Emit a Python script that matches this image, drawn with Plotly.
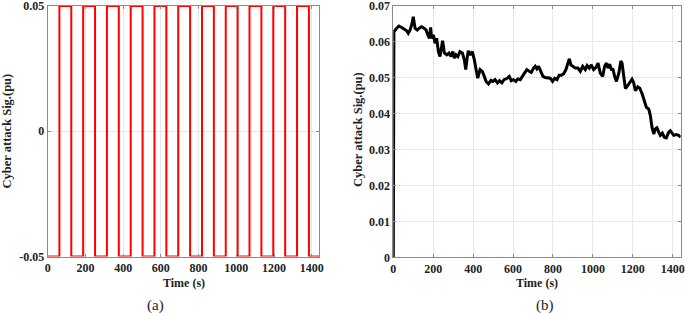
import plotly.graph_objects as go

# ---- (a) square-wave cyber attack signal ----
rise_times = [62, 188, 314, 440, 566, 692, 818, 944, 1070, 1196, 1322]
fall_times = [125, 251, 377, 503, 629, 755, 881, 1007, 1133, 1259, 1385]
low_level = -0.05
high_level = 0.05
t_end = 1440

# ---- (b) cyber attack signal ----
t_b = [0, 3, 17, 28, 42, 55, 67, 75, 84, 92, 100, 109, 120, 130, 142, 154, 164, 172, 181, 187,
       192, 201, 209, 217, 226, 234, 242, 247, 256, 268, 279, 289, 298, 306, 314, 323, 334, 346,
       356, 363, 371, 376, 385, 396, 406, 415, 423, 435, 446, 456, 465, 477, 489, 499, 510, 522,
       532, 544, 555, 569, 581, 591, 602, 614, 624, 636, 647, 658, 669, 681, 691, 703, 711, 719,
       728, 739, 750, 761, 773, 786, 798, 808, 820, 831, 842, 853, 865, 873, 882, 890, 900, 912,
       925, 937, 949, 962, 971, 982, 992, 1004, 1016, 1026, 1037, 1049, 1059, 1068, 1076, 1084,
       1093, 1101, 1109, 1118, 1130, 1140, 1146, 1155, 1163, 1174, 1188, 1196, 1204, 1213, 1225,
       1235, 1247, 1258, 1268, 1280, 1288, 1296, 1305, 1313, 1321, 1330, 1338, 1348, 1358, 1368,
       1380, 1388, 1396, 1405, 1418, 1430, 1440]
v_b = [0.0, 0.0628, 0.0637, 0.0643, 0.0639, 0.0635, 0.0630, 0.0623, 0.0632, 0.0646, 0.0669,
       0.0637, 0.0632, 0.0637, 0.0641, 0.0637, 0.0632, 0.0620, 0.0609, 0.0639, 0.0609, 0.0618,
       0.0595, 0.0609, 0.0572, 0.0558, 0.0586, 0.0602, 0.0568, 0.0563, 0.0568, 0.0558, 0.0572,
       0.0554, 0.0563, 0.0558, 0.0572, 0.0568, 0.0549, 0.0522, 0.0558, 0.0574, 0.0563, 0.0572,
       0.0549, 0.0517, 0.0498, 0.0522, 0.0517, 0.0503, 0.0489, 0.0482, 0.0492, 0.0489, 0.0494,
       0.0485, 0.0491, 0.0485, 0.0494, 0.0497, 0.0503, 0.0491, 0.0494, 0.0489, 0.0496, 0.0494,
       0.0503, 0.0512, 0.0522, 0.0517, 0.0514, 0.0526, 0.0531, 0.0524, 0.0531, 0.0517, 0.0503,
       0.0500, 0.0498, 0.0498, 0.0489, 0.0498, 0.0494, 0.0506, 0.0506, 0.0510, 0.0522, 0.0540,
       0.0552, 0.0535, 0.0531, 0.0526, 0.0526, 0.0517, 0.0531, 0.0522, 0.0533, 0.0526, 0.0535,
       0.0522, 0.0528, 0.0540, 0.0512, 0.0503, 0.0531, 0.0540, 0.0526, 0.0537, 0.0522, 0.0522,
       0.0503, 0.0489, 0.0512, 0.0546, 0.0540, 0.0498, 0.0469, 0.0477, 0.0490, 0.0495, 0.0486,
       0.0463, 0.0474, 0.0470, 0.0454, 0.0435, 0.0417, 0.0412, 0.0394, 0.0362, 0.0343, 0.0357,
       0.0360, 0.0348, 0.0339, 0.0345, 0.0334, 0.0332, 0.0348, 0.0352, 0.0345, 0.0339, 0.0341,
       0.0339, 0.0334]

x_ticks = [0, 200, 400, 600, 800, 1000, 1200, 1400]
ya_ticks = [-0.05, 0, 0.05]
ya_labels = ["-0.05", "0", "0.05"]
yb_ticks = [0, 0.01, 0.02, 0.03, 0.04, 0.05, 0.06, 0.07]
yb_labels = ["0", "0.01", "0.02", "0.03", "0.04", "0.05", "0.06", "0.07"]

# build step series for (a)
ta, va = [0], [low_level]
for r, f in zip(rise_times, fall_times):
    ta += [r, r, f, f]
    va += [low_level, high_level, high_level, low_level]
ta.append(t_end)
va.append(low_level)

W, H = 685, 313
FONT = "Liberation Serif, Times New Roman, serif"

fig = go.Figure()
fig.add_trace(go.Scatter(x=ta, y=va, mode="lines", line=dict(color="#ff0000", width=2),
                         xaxis="x", yaxis="y", showlegend=False, cliponaxis=False))
fig.add_trace(go.Scatter(x=t_b, y=v_b, mode="lines", line=dict(color="#000000", width=3),
                         xaxis="x2", yaxis="y2", showlegend=False))

axis_common = dict(showline=True, linecolor="#8a8a8a", linewidth=1, mirror="allticks",
                   ticks="inside", ticklen=3, tickcolor="#8a8a8a", automargin=False,
                   ticklabeloverflow="allow",
                   showgrid=True, gridcolor="#e8e8e8", gridwidth=1, zeroline=False,
                   tickfont=dict(family=FONT, size=12, color="#222222", weight="bold"))

def px_x(p):
    return p / W

def px_y(p):
    return 1 - p / H

fig.update_layout(
    width=W, height=H,
    margin=dict(l=0, r=0, t=0, b=0, autoexpand=False),
    paper_bgcolor="white", plot_bgcolor="white",
    xaxis=dict(domain=[px_x(47.7), px_x(319.3)], range=[0, 1440], anchor="y",
               tickvals=x_ticks, ticktext=[str(v) for v in x_ticks], **axis_common),
    yaxis=dict(domain=[px_y(256.5), px_y(6.0)], range=[-0.05001, 0.05001], anchor="x",
               tickvals=ya_ticks, ticktext=ya_labels, **axis_common),
    xaxis2=dict(domain=[px_x(393.3), px_x(680.7)], range=[0, 1440], anchor="y2",
                tickvals=x_ticks, ticktext=[str(v) for v in x_ticks], **axis_common),
    yaxis2=dict(domain=[px_y(257.3), px_y(5.5)], range=[0, 0.07001], anchor="x2",
                tickvals=yb_ticks, ticktext=yb_labels, **axis_common),
)

def ann(text, x, y, size, bold=True, angle=0):
    fig.add_annotation(text=text, x=px_x(x), y=px_y(y), xref="paper", yref="paper",
                       showarrow=False, textangle=angle, xanchor="center", yanchor="middle",
                       font=dict(family=FONT, size=size, color="#222222",
                                 weight="bold" if bold else "normal"))

ann("Time (s)", 183.5, 283, 12)
ann("Time (s)", 537, 283, 12)
ann("Cyber attack Sig.(pu)", 6.5, 131, 12.5, angle=-90)
ann("Cyber attack Sig.(pu)", 358, 130, 12.5, angle=-90)
ann("(a)", 155, 305, 15, bold=False)
ann("(b)", 545, 305, 15, bold=False)

fig.write_html("out.html", config={"displayModeBar": False},
               post_script="document.body.style.margin='0px';document.body.style.overflow='hidden';")
